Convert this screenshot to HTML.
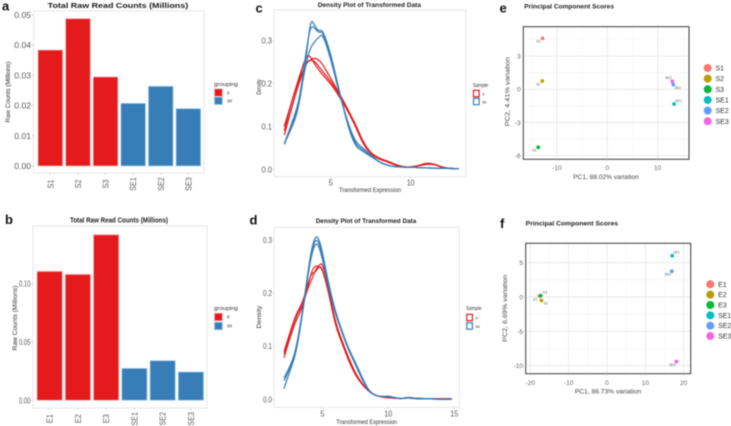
<!DOCTYPE html>
<html lang="en">
<head>
<meta charset="utf-8">
<title>Read counts, density and PCA panels</title>
<style>
html,body{margin:0;padding:0;background:#fff;width:731px;height:426px;overflow:hidden}
svg{display:block;filter:blur(.4px)}
text{font-family:"Liberation Sans",sans-serif}
</style>
</head>
<body>
<svg id="figure" xmlns="http://www.w3.org/2000/svg" width="731" height="426" viewBox="0 0 731 426"></svg>
<script>
// Panel a data
const barCatsA = ['S1','S2','S3','SE1','SE2','SE3'];
const barValsA = [0.0384,0.0488,0.0295,0.02075,0.0264,0.019];
const barGroupsA = ['s','s','s','se','se','se'];
const yTicksA = ['0.00','0.01','0.02','0.03','0.04','0.05'];
// Panel b data
const barCatsB = ['E1','E2','E3','SE1','SE2','SE3'];
const barValsB = [0.1106,0.108,0.142,0.0274,0.034,0.0243];
const barGroupsB = ['e','e','e','se','se','se'];
const yTicksB = ['0.00','0.05','0.10'];
// Panel c data
const gridC = [2.1,2.5,3,3.5,3.75,4,4.25,4.5,5,5.5,6,6.5,7,7.5,8,8.5,9,9.5,10,10.5,11,11.5,12,12.5,13];
const densS1 = [.080,.135,.200,.250,.255,.252,.240,.228,.205,.178,.140,.105,.060,.036,.024,.018,.010,.005,.005,.008,.012,.012,.004,.002,.001];
const densS2 = [.090,.150,.212,.268,.262,.245,.232,.220,.200,.172,.140,.110,.065,.038,.026,.020,.012,.006,.005,.009,.015,.012,.004,.002,.001];
const densS3 = [.100,.150,.208,.250,.255,.260,.255,.245,.212,.180,.145,.108,.062,.036,.025,.019,.011,.005,.005,.008,.013,.011,.004,.002,.001];
const densCSE1 = [.060,.090,.140,.270,.352,.335,.322,.326,.270,.190,.110,.055,.042,.030,.018,.010,.006,.005,.005,.004,.003,.003,.002,.002,.001];
const densCSE2 = [.058,.095,.150,.285,.335,.330,.318,.322,.262,.185,.115,.060,.046,.032,.017,.009,.006,.005,.005,.004,.003,.003,.002,.002,.001];
const densCSE3 = [.060,.100,.155,.255,.285,.298,.308,.316,.258,.182,.118,.066,.050,.034,.018,.009,.006,.005,.005,.004,.003,.003,.002,.002,.001];
const xTicksC = [5,10];
const yTicksC = [0,0.1,0.2,0.3];
// Panel d data
const gridD = [2.1,2.5,3,3.5,4,4.25,4.5,4.75,5,5.5,6,6.5,7,7.5,8,8.5,9,9.5,10,10.5,11,11.5,12,13,14,14.8];
const densE1 = [.078,.112,.148,.172,.222,.245,.252,.250,.245,.200,.140,.108,.075,.048,.030,.016,.008,.004,.003,.002,.001,.003,.001,.001,.001,.001];
const densE2 = [.085,.118,.155,.178,.215,.228,.245,.252,.258,.205,.145,.110,.078,.050,.030,.015,.008,.004,.003,.002,.001,.003,.001,.001,.001,.001];
const densE3 = [.090,.122,.160,.182,.226,.238,.240,.250,.248,.198,.138,.105,.072,.046,.028,.015,.008,.004,.003,.002,.001,.003,.001,.001,.001,.001];
const densDSE1 = [.020,.050,.085,.160,.250,.285,.302,.295,.272,.212,.162,.125,.092,.068,.040,.016,.007,.005,.006,.003,.001,.004,.002,.001,.000,.000];
const densDSE2 = [.035,.055,.090,.165,.255,.290,.308,.302,.278,.215,.165,.128,.095,.070,.042,.017,.007,.005,.006,.003,.001,.004,.002,.001,.000,.000];
const densDSE3 = [.040,.058,.092,.165,.248,.278,.295,.288,.265,.208,.160,.125,.092,.066,.038,.015,.007,.005,.005,.003,.001,.004,.002,.001,.000,.000];
const xTicksD = [5,10,15];
const yTicksD = [0,0.1,0.2,0.3];
// Panel e data
const pcaNamesE = ['S1','S2','S3','SE1','SE2','SE3'];
const pc1E = [-12.85,-12.9,-13.7,13.25,13.1,12.9];
const pc2E = [4.6,0.75,-5.24,-1.33,0.42,0.72];
const labelSideE = ['left-below','left-below','left-below','right-above','right-below','left-above'];
const xTicksE = [-10,0,10];
const yTicksE = [-6,-3,0,3];
const xMinorE = [-15,-5,5,15];
const yMinorE = [-4.5,-1.5,1.5,4.5];
// Panel f data
const pcaNamesF = ['E1','E2','E3','SE1','SE2','SE3'];
const pc1F = [-17.6,-17.1,-17.3,17,16.9,18.1];
const pc2F = [0.15,-0.5,0.2,6.0,3.74,-9.4];
const labelSideF = ['left-below','right-below','right-above','right-above','left-below','left-below'];
const xTicksF = [-20,-10,0,10,20];
const yTicksF = [-10,-5,0,5];
const xMinorF = [-15,-5,5,15];
const yMinorF = [-7.5,-2.5,2.5];

const RED = '#e41a1c', BLUE = '#377eb8';
const HUES = ['#F8766D','#B79F00','#00BA38','#00BFC4','#619CFF','#F564E3'];
const svg = document.getElementById('figure');
const NS = 'http://www.w3.org/2000/svg';

function mk(tag, attrs, name, interactive) {
  const el = document.createElementNS(NS, tag);
  for (const k in attrs) el.setAttribute(k, attrs[k]);
  
  
  svg.appendChild(el);
  return el;
}
function label(str, x, y, o, name) {
  const a = {x: x, y: y, 'font-size': o.size || 8, fill: o.fill || '#4d4d4d', 'text-anchor': o.anchor || 'start'};
  if (o.weight) a['font-weight'] = o.weight;
  if (o.len) { a.textLength = o.len; a.lengthAdjust = 'spacingAndGlyphs'; }
  if (o.rot) a.transform = 'rotate(-90 ' + x + ' ' + y + ')';
  const t = mk('text', a, name, false);
  t.textContent = str;
  return t;
}
function box(x0, y0, x1, y1, stroke, w, name) {
  return mk('rect', {x: x0, y: y0, width: x1 - x0, height: y1 - y0, fill: 'none', stroke: stroke, 'stroke-width': w}, name, false);
}
function tick(x1, y1, x2, y2, name) {
  return mk('line', {x1: x1, y1: y1, x2: x2, y2: y2, stroke: '#c8c8c8', 'stroke-width': .7}, name, false);
}
function smooth(pts) {
  let d = 'M' + pts[0][0].toFixed(2) + ' ' + pts[0][1].toFixed(2);
  for (let i = 1; i < pts.length - 1; i++) {
    const mx = (pts[i][0] + pts[i + 1][0]) / 2, my = (pts[i][1] + pts[i + 1][1]) / 2;
    d += 'Q' + pts[i][0].toFixed(2) + ' ' + pts[i][1].toFixed(2) + ' ' + mx.toFixed(2) + ' ' + my.toFixed(2);
  }
  const l = pts[pts.length - 1];
  return d + 'L' + l[0].toFixed(2) + ' ' + l[1].toFixed(2);
}
function linear(d0, r0, d1, r1) {
  return v => r0 + (v - d0) * (r1 - r0) / (d1 - d0);
}

function barPanel(p) {
  const sy = linear(0, p.y0, p.refVal, p.yRef);
  box(p.left, p.top, p.right, p.bottom, '#e6e6e6', 1, p.id + '-panel-border');
  p.cats.forEach((c, i) => {
    const x = p.firstBar + i * p.step, isFirst = p.groups[i] !== 'se';
    mk('rect', {x: x, y: sy(p.vals[i]), width: p.barW, height: p.y0 - sy(p.vals[i]),
      fill: isFirst ? RED : BLUE, stroke: isFirst ? '#f6b9b9' : '#b3d2ea', 'stroke-width': .8}, p.id + '-bar-' + c.toLowerCase(), true);
    const cx = x + p.barW / 2;
    tick(cx, p.bottom, cx, p.bottom + 2, p.id + '-x-tick-' + c.toLowerCase());
    label(c, cx + 3, p.xLabelY, {anchor: 'middle', rot: true, size: p.tickSize, fill: '#5a5a5a', len: c.length > 2 ? 13.5 : 9}, p.id + '-x-label-' + c.toLowerCase());
  });
  p.ticks.forEach(t => {
    tick(p.left - 2, sy(+t), p.left, sy(+t), p.id + '-y-tick-' + t);
    label(t, p.left - 2.5, sy(+t) + 3, {anchor: 'end', size: p.tickSize, fill: '#5a5a5a', len: p.tickLen}, p.id + '-y-label-' + t);
  });
}
function legendBars(id, x, titleY, title, items, ys) {
  label(title, x, titleY, {size: 5.2, fill: '#333', len: title === 'grouping' ? 24 : 16}, id + '-legend-title');
  items.forEach((it, i) => {
    mk('rect', {x: x + .4, y: ys[i], width: 8, height: 7.6, fill: it[1], stroke: it[2], 'stroke-width': .9}, id + '-legend-key-' + it[0], false);
    label(it[0], x + 13, ys[i] + 5.5, {size: 5, fill: '#444'}, id + '-legend-label-' + it[0]);
  });
}
function legendLines(id, x, titleY, items, ys) {
  label('Sample', x, titleY, {size: 5.2, fill: '#333', len: 15.5}, id + '-legend-title');
  items.forEach((it, i) => {
    mk('rect', {x: x + .8, y: ys[i], width: 5.6, height: 6.4, fill: '#fff', stroke: it[1], 'stroke-width': 1.2}, id + '-legend-key-' + it[0], false);
    label(it[0], x + 9.5, ys[i] + 5, {size: 4.2, fill: '#444'}, id + '-legend-label-' + it[0]);
  });
}
function densityPanel(p) {
  const sx = linear(p.xRefA[0], p.xRefA[1], p.xRefB[0], p.xRefB[1]);
  const sy = linear(0, p.y0, 0.3, p.y3);
  box(p.left, p.top, p.right, p.bottom, '#e6e6e6', 1, p.id + '-panel-border');
  p.series.forEach(s => {
    const pts = p.grid.map((g, i) => [sx(g), sy(s.vals[i])]);
    mk('path', {d: smooth(pts), fill: 'none', stroke: s.color, 'stroke-width': s.w, 'stroke-linejoin': 'round'}, p.id + '-density-' + s.name, false);
  });
  p.xTicks.forEach(t => {
    tick(sx(t), p.bottom, sx(t), p.bottom + 2, p.id + '-x-tick-' + t);
    label(String(t), sx(t), p.xLabelY, {anchor: 'middle', size: 8, fill: '#5a5a5a', len: t >= 10 ? 8 : 4.2}, p.id + '-x-label-' + t);
  });
  p.yTicks.forEach(t => {
    tick(p.left - 1.5, sy(t), p.left, sy(t), p.id + '-y-tick-' + t);
    label(t.toFixed(1), p.left - 2, sy(t) + 3, {anchor: 'end', size: 8, fill: '#5a5a5a', len: p.yTickLen}, p.id + '-y-label-' + t);
  });
}
function pcaPanel(p) {
  const sx = linear(0, p.x0, p.xRef, p.xRefPx);
  const sy = linear(0, p.y0, p.yRef, p.yRefPx);
  p.xMinor.forEach(v => mk('line', {x1: sx(v), x2: sx(v), y1: p.top, y2: p.bottom, stroke: '#f2f2f2', 'stroke-width': .5}, p.id + '-minor-grid-x', false));
  p.yMinor.forEach(v => mk('line', {x1: p.left, x2: p.right, y1: sy(v), y2: sy(v), stroke: '#f2f2f2', 'stroke-width': .5}, p.id + '-minor-grid-y', false));
  p.xTicks.forEach(v => mk('line', {x1: sx(v), x2: sx(v), y1: p.top, y2: p.bottom, stroke: '#e8e8e8', 'stroke-width': .9}, p.id + '-major-grid-x', false));
  p.yTicks.forEach(v => mk('line', {x1: p.left, x2: p.right, y1: sy(v), y2: sy(v), stroke: '#e8e8e8', 'stroke-width': .9}, p.id + '-major-grid-y', false));
  p.names.forEach((n, i) => {
    const cx = sx(p.pc1[i]), cy = sy(p.pc2[i]), side = p.sides[i];
    const dx = side.startsWith('left') ? -4 : 4.4, dy = side.endsWith('below') ? 4.3 : -2.2;
    mk('circle', {cx: cx, cy: cy, r: 1.9, fill: HUES[i]}, p.id + '-point-' + n.toLowerCase(), true);
    label(n, cx + dx, cy + dy, {anchor: 'middle', size: 3.4, fill: '#555'}, p.id + '-point-label-' + n.toLowerCase());
  });
  box(p.left, p.top, p.right, p.bottom, '#3a3a3a', 1, p.id + '-panel-border');
  p.xTicks.forEach(v => {
    tick(sx(v), p.bottom, sx(v), p.bottom + 1.8, p.id + '-x-tick-' + v);
    label(String(v), sx(v), p.xLabelY, {anchor: 'middle', size: 6.6, fill: '#666'}, p.id + '-x-label-' + v);
  });
  p.yTicks.forEach(v => {
    tick(p.left - 1.8, sy(v), p.left, sy(v), p.id + '-y-tick-' + v);
    label(String(v), p.left - 2.6, sy(v) + 2.4, {anchor: 'end', size: 6.6, fill: '#666'}, p.id + '-y-label-' + v);
  });
  p.names.forEach((n, i) => {
    const y = p.legY + i * p.legStep;
    mk('circle', {cx: p.legX, cy: y, r: 4, fill: HUES[i]}, p.id + '-legend-key-' + n.toLowerCase(), false);
    label(n, p.legX + 7.8, y + 2.5, {size: 7, fill: '#333'}, p.id + '-legend-label-' + n.toLowerCase());
  });
}

// Panel letters
label('a', 2, 10.5, {size: 13, fill: '#111', weight: 'bold'}, 'panel-letter-a');
label('b', 5, 224, {size: 13, fill: '#111', weight: 'bold'}, 'panel-letter-b');
label('c', 255.5, 12.5, {size: 13, fill: '#111', weight: 'bold'}, 'panel-letter-c');
label('d', 249.5, 224.5, {size: 13, fill: '#111', weight: 'bold'}, 'panel-letter-d');
label('e', 499.5, 12.5, {size: 13, fill: '#111', weight: 'bold'}, 'panel-letter-e');
label('f', 500, 228, {size: 13, fill: '#111', weight: 'bold'}, 'panel-letter-f');

// Panel a
label('Total Raw Read Counts (Millions)', 47.7, 7.8, {size: 7.6, weight: 'bold', fill: '#1a1a1a', len: 140.5}, 'a-chart-title');
barPanel({id: 'a', left: 33.5, right: 204, top: 11, bottom: 173, y0: 166, refVal: 0.05, yRef: 15,
  firstBar: 38, step: 27.6, barW: 24.7, cats: barCatsA, vals: barValsA, groups: barGroupsA,
  ticks: yTicksA, xLabelY: 184, tickSize: 8.2, tickLen: 16.7});
label('Raw Counts (Millions)', 10, 92, {rot: true, anchor: 'middle', size: 6.4, fill: '#333', len: 61}, 'a-y-axis-title');
legendBars('a', 214, 86, 'grouping', [['s', RED, '#f6b9b9'], ['se', BLUE, '#b3d2ea']], [88.8, 97]);

// Panel b
label('Total Raw Read Counts (Millions)', 70, 222.5, {size: 7, weight: 'bold', fill: '#222', len: 98}, 'b-chart-title');
barPanel({id: 'b', left: 33, right: 207, top: 226, bottom: 408, y0: 400.3, refVal: 0.1, yRef: 283.7,
  firstBar: 37, step: 28.25, barW: 25.3, cats: barCatsB, vals: barValsB, groups: barGroupsB,
  ticks: yTicksB, xLabelY: 418.7, tickSize: 8, tickLen: 11.5});
label('Raw Counts (Millions)', 16.8, 318, {rot: true, anchor: 'middle', size: 6.4, fill: '#333', len: 65}, 'b-y-axis-title');
legendBars('b', 214, 310, 'grouping', [['e', RED, '#f6b9b9'], ['se', BLUE, '#b3d2ea']], [313.2, 322.2]);

// Panel c
label('Density Plot of Transformed Data', 317.7, 6.8, {size: 6.8, weight: 'bold', fill: '#222', len: 103.3}, 'c-chart-title');
densityPanel({id: 'c', left: 274, right: 465.7, top: 10, bottom: 176.7, y0: 169.3, y3: 40.7,
  xRefA: [5, 330.7], xRefB: [10, 410.7], grid: gridC, xTicks: xTicksC, yTicks: yTicksC, xLabelY: 185.5, yTickLen: 10.5,
  series: [
    {name: 's1', vals: densS1, color: RED, w: 1.25},
    {name: 's2', vals: densS2, color: RED, w: 1.25},
    {name: 's3', vals: densS3, color: RED, w: 1.25},
    {name: 'se1', vals: densCSE1, color: BLUE, w: 1.2},
    {name: 'se2', vals: densCSE2, color: BLUE, w: 1.2},
    {name: 'se3', vals: densCSE3, color: BLUE, w: 1.2}
  ]});
label('Transformed Expression', 370, 192, {anchor: 'middle', size: 6, fill: '#333', len: 62}, 'c-x-axis-title');
label('Density', 261, 87, {rot: true, anchor: 'middle', size: 6, fill: '#333', len: 15.5}, 'c-y-axis-title');
legendLines('c', 472.7, 87, [['s', RED], ['se', BLUE]], [90.3, 98.3]);

// Panel d
label('Density Plot of Transformed Data', 315.7, 223, {size: 6.8, weight: 'bold', fill: '#222', len: 100.6}, 'd-chart-title');
densityPanel({id: 'd', left: 274, right: 459.3, top: 227.3, bottom: 407.3, y0: 399.3, y3: 240,
  xRefA: [5, 322.3], xRefB: [15, 454.3], grid: gridD, xTicks: xTicksD, yTicks: yTicksD, xLabelY: 416.5, yTickLen: 9,
  series: [
    {name: 'e1', vals: densE1, color: RED, w: 1.1},
    {name: 'e2', vals: densE2, color: RED, w: 1.1},
    {name: 'e3', vals: densE3, color: RED, w: 1.1},
    {name: 'se1', vals: densDSE1, color: BLUE, w: 1.25},
    {name: 'se2', vals: densDSE2, color: BLUE, w: 1.25},
    {name: 'se3', vals: densDSE3, color: BLUE, w: 1.25}
  ]});
label('Transformed Expression', 366.7, 424, {anchor: 'middle', size: 6, fill: '#333', len: 60.7}, 'd-x-axis-title');
label('Density', 261, 317, {rot: true, anchor: 'middle', size: 6, fill: '#333', len: 22.7}, 'd-y-axis-title');
legendLines('d', 466, 310, [['e', RED], ['se', BLUE]], [314.3, 322.8]);

// Panel e
label('Principal Component Scores', 524.3, 8.5, {size: 6.2, weight: 'bold', fill: '#222', len: 89.7}, 'e-chart-title');
pcaPanel({id: 'e', left: 523.3, right: 689, top: 26.7, bottom: 159.3, x0: 607.3, xRef: 10, xRefPx: 657.7, y0: 89.3, yRef: -6, yRefPx: 155.7,
  names: pcaNamesE, pc1: pc1E, pc2: pc2E, sides: labelSideE, xTicks: xTicksE, yTicks: yTicksE, xMinor: xMinorE, yMinor: yMinorE,
  xLabelY: 170, legX: 707.7, legY: 68, legStep: 10.65});
label('PC1, 88.02% variation', 606, 179, {anchor: 'middle', size: 6.6, fill: '#444', len: 65.7}, 'e-x-axis-title');
label('PC2, 4.41% variation', 509.5, 91.7, {rot: true, anchor: 'middle', size: 6.6, fill: '#444', len: 69}, 'e-y-axis-title');

// Panel f
label('Principal Component Scores', 525.7, 225.5, {size: 6.2, weight: 'bold', fill: '#222', len: 92.3}, 'f-chart-title');
pcaPanel({id: 'f', left: 525.7, right: 690.7, top: 243.3, bottom: 373.7, x0: 607, xRef: 20, xRefPx: 683.7, y0: 297, yRef: -10, yRefPx: 365.7,
  names: pcaNamesF, pc1: pc1F, pc2: pc2F, sides: labelSideF, xTicks: xTicksF, yTicks: yTicksF, xMinor: xMinorF, yMinor: yMinorF,
  xLabelY: 384.8, legX: 710.3, legY: 284.3, legStep: 10.35});
label('PC1, 86.73% variation', 608, 393.3, {anchor: 'middle', size: 6.6, fill: '#444', len: 66.3}, 'f-x-axis-title');
label('PC2, 6.69% variation', 507.2, 308.3, {rot: true, anchor: 'middle', size: 6.6, fill: '#444', len: 67}, 'f-y-axis-title');
</script>
</body>
</html>
